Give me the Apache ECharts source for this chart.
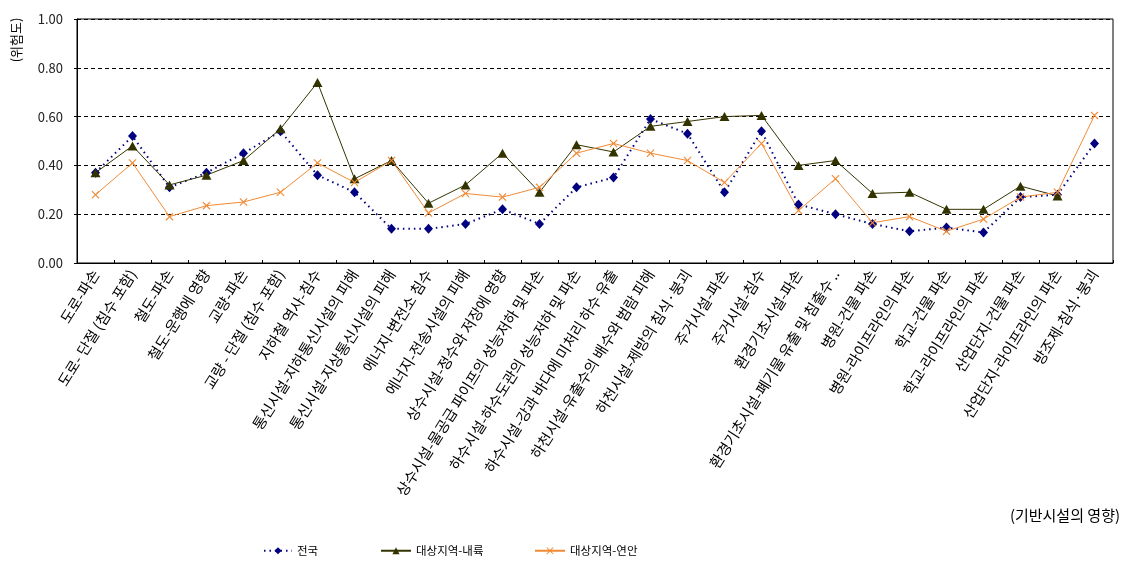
<!DOCTYPE html>
<html>
<head>
<meta charset="utf-8">
<script src="https://cdn.jsdelivr.net/npm/echarts@6/dist/echarts.min.js"></script>
<style>html,body{margin:0;padding:0;background:#fff}#c{width:1136px;height:580px}</style>
</head>
<body>
<div id="c"></div>
<script>
const categories = [
  '도로-파손','도로- 단절 (침수 포함)','철도-파손','철도-운행에 영향','교량-파손','교량 - 단절 (침수 포함)',
  '지하철 역사-침수','통신시설-지하통신시설의 피해','통신시설-지상통신시설의 피해','에너지-변전소 침수',
  '에너지-전송시설의 피해','상수시설-정수와 저장에 영향','상수시설-물공급 파이프의 성능저하 및 파손',
  '하수시설-하수도관의 성능저하 및 파손','하수시설-강과 바다에 미처리 하수 유출','하천시설-유출수의 배수와 범람 피해',
  '하천시설-제방의 침식·붕괴','주거시설-파손','주거시설-침수','환경기초시설-파손','환경기초시설-폐기물 유출 및 침출수 ..',
  '병원-건물 파손','병원-라이프라인의 파손','학교-건물 파손','학교-라이프라인의 파손','산업단지-건물 파손',
  '산업단지-라이프라인의 파손','방조제-침식·붕괴'
];
const nationwide = [0.37,0.52,0.31,0.37,0.45,0.54,0.36,0.29,0.14,0.14,0.16,0.22,0.16,0.31,0.35,0.59,0.53,0.29,0.54,0.24,0.20,0.16,0.13,0.145,0.125,0.27,0.28,0.49];
const inland = [0.37,0.48,0.32,0.36,0.42,0.55,0.74,0.345,0.42,0.245,0.32,0.45,0.29,0.485,0.455,0.56,0.58,0.60,0.605,0.40,0.42,0.285,0.29,0.22,0.22,0.315,0.275,null];
const coastal = [0.28,0.41,0.19,0.235,0.25,0.29,0.41,0.33,0.42,0.205,0.285,0.27,0.31,0.45,0.49,0.45,0.42,0.33,0.49,0.215,0.345,0.165,0.19,0.13,0.18,0.27,0.29,0.605];
const yTicks = ['0.00','0.20','0.40','0.60','0.80','1.00'];
const seriesNames = ['전국','대상지역-내륙','대상지역-연안'];

const font = '"Noto Sans CJK KR", "DejaVu Sans", sans-serif';
const xPath = 'path://M0,1L1,0L5,4L9,0L10,1L6,5L10,9L9,10L5,6L1,10L0,9L4,5Z';
const legendText = {fontSize: 11.5, color: '#000', fontFamily: font};

const chart = echarts.init(document.getElementById('c'));
chart.setOption({
  animation: false,
  textStyle: {fontFamily: font},
  grid: {left: 77, right: 23, top: 19, bottom: 317, show: true, borderColor: '#000', borderWidth: 1},
  legend: [
    {data: [seriesNames[0]], left: 263, top: 545, padding: 0, itemWidth: 28, itemHeight: 9, textStyle: legendText},
    {data: [seriesNames[1]], left: 380, top: 545, padding: 0, itemWidth: 30, itemHeight: 9, textStyle: legendText},
    {data: [seriesNames[2]], left: 534, top: 545, padding: 0, itemWidth: 30, itemHeight: 9, textStyle: legendText}
  ],
  xAxis: {
    type: 'category',
    data: categories,
    boundaryGap: true,
    axisLine: {lineStyle: {color: '#000', width: 1}},
    axisTick: {show: true, inside: true, length: 3, lineStyle: {color: '#000'}},
    axisLabel: {interval: 0, rotate: 58, fontSize: 14.8, color: '#000', margin: 8, fontFamily: font},
    splitLine: {show: false}
  },
  yAxis: {
    type: 'value',
    min: 0, max: 1, interval: 0.2,
    axisLine: {show: true, lineStyle: {color: '#000'}},
    axisTick: {show: true, length: 3, lineStyle: {color: '#000'}},
    axisLabel: {fontSize: 13, color: '#222', margin: 14, fontFamily: font,
      formatter: function (v) { return yTicks[Math.round(v / 0.2)]; }},
    splitLine: {show: true, lineStyle: {color: '#000', type: [4, 3], width: 1}}
  },
  graphic: [
    {type: 'text', x: 16, y: 40, rotation: Math.PI / 2,
      style: {text: '(위험도)', fontSize: 13, fill: '#000', align: 'center', verticalAlign: 'middle', fontFamily: font}},
    {type: 'text', right: 16, top: 508,
      style: {text: '(기반시설의 영향)', fontSize: 15, fill: '#000', fontFamily: font}}
  ],
  series: [
    {name: seriesNames[0], type: 'line', data: nationwide, symbol: 'diamond', symbolSize: [9, 10],
      lineStyle: {color: '#000080', width: 2, type: [1.5, 4]}, itemStyle: {color: '#000080'}},
    {name: seriesNames[1], type: 'line', data: inland, symbol: 'triangle', symbolSize: [10, 9],
      lineStyle: {color: '#333300', width: 1}, itemStyle: {color: '#333300'}},
    {name: seriesNames[2], type: 'line', data: coastal, symbol: xPath, symbolSize: 8,
      lineStyle: {color: '#f08a35', width: 1}, itemStyle: {color: '#f08a35'}}
  ]
});
</script>
</body>
</html>
